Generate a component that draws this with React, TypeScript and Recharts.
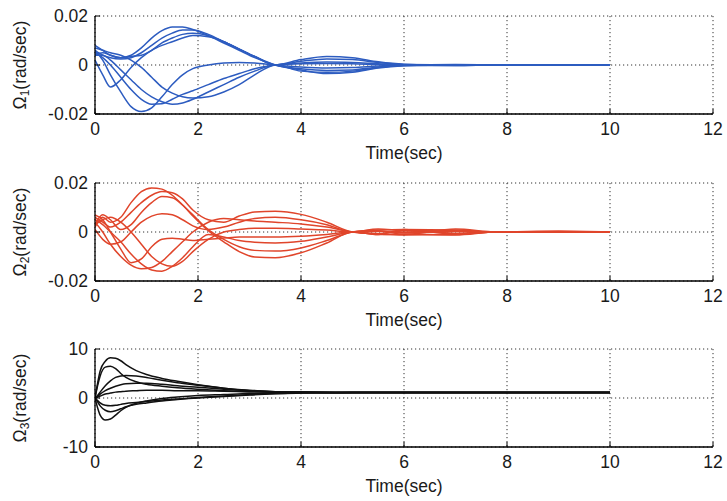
import React from 'react';
import { LineChart, Line, XAxis, YAxis, CartesianGrid } from 'recharts';

// Time samples (sec)
const timeA = [0, 0.15, 0.3, 0.5, 0.7, 0.9, 1.1, 1.3, 1.5, 1.7, 1.9, 2.2, 2.5, 2.8, 3.1, 3.5, 4.0, 4.5, 5.0, 5.5, 6.0, 7.0, 7.8, 9.0, 10.0];
const timeC = [0, 0.05, 0.1, 0.2, 0.3, 0.4, 0.5, 0.6, 0.8, 1.0, 1.3, 1.6, 2.0, 2.5, 3.0, 3.5, 4.0, 5.0, 6.0, 7.8, 10.0];

const xTicks = [0, 2, 4, 6, 8, 10, 12];
const yTicksSmall = [-0.02, 0, 0.02];
const yTicksBig = [-10, 0, 10];

// Omega_1 (blue)
const w1a = [0.008, 0.006, 0.004, 0.003, 0.004, 0.007, 0.011, 0.014, 0.0155, 0.0155, 0.0145, 0.012, 0.009, 0.006, 0.003, 0, -0.002, -0.0035, -0.003, -0.0012, -0.0003, 0.0002, 0.0001, 0, 0];
const w1b = [0.006, 0.004, 0.003, 0.0025, 0.003, 0.005, 0.008, 0.011, 0.013, 0.0143, 0.0143, 0.0125, 0.0095, 0.0065, 0.0035, 0, -0.0015, -0.0022, -0.002, -0.0008, -0.0002, -0.0002, 0, 0, 0];
const w1c = [0.004, 0.005, 0.004, 0.003, 0.0035, 0.004, 0.006, 0.009, 0.011, 0.0125, 0.013, 0.012, 0.0095, 0.0065, 0.0035, 0, 0.0015, 0.0025, 0.0022, 0.001, 0.0002, 0.0001, 0, 0, 0];
const w1d = [0.002, -0.004, -0.009, -0.006, -0.001, 0.003, 0.006, 0.008, 0.0095, 0.011, 0.012, 0.0115, 0.0095, 0.0065, 0.0035, 0, 0.0022, 0.0035, 0.003, 0.0013, 0.0003, -0.0002, 0, 0, 0];
const w1e = [0.006, 0.002, -0.004, -0.011, -0.017, -0.019, -0.0175, -0.013, -0.008, -0.004, -0.0015, 0, 0.0008, 0.001, 0.0008, 0, -0.0008, -0.0012, -0.001, -0.0004, 0, 0.0001, 0, 0, 0];
const w1f = [0.005, 0.003, 0, -0.005, -0.01, -0.014, -0.016, -0.0158, -0.014, -0.012, -0.0105, -0.008, -0.0055, -0.0035, -0.0015, 0, 0.0008, 0.0012, 0.001, 0.0005, 0.0001, 0, 0, 0, 0];
const w1g = [0.004, 0.004, 0.002, -0.002, -0.006, -0.01, -0.013, -0.015, -0.016, -0.0155, -0.014, -0.011, -0.008, -0.005, -0.0025, 0, -0.0025, -0.003, -0.0025, -0.001, -0.0002, 0, 0, 0, 0];
const w1h = [0.007, 0.006, 0.005, 0.004, 0.002, -0.001, -0.005, -0.009, -0.0115, -0.013, -0.0135, -0.013, -0.011, -0.008, -0.004, 0, 0.0005, 0.0006, 0.0005, 0.0002, 0, 0, 0, 0, 0];

// Omega_2 (red)
const w2a = [0.002, 0.006, 0.004, 0.006, 0.012, 0.0165, 0.018, 0.0175, 0.015, 0.011, 0.007, 0.001, -0.003, -0.006, -0.0075, -0.0078, -0.0065, -0.0035, 0, 0.0008, 0.001, 0.0008, 0, 0, 0];
const w2b = [0.006, 0.004, 0.002, 0.004, 0.008, 0.012, 0.015, 0.0165, 0.016, 0.0135, 0.009, 0.005, 0.004, 0.0065, 0.0082, 0.0085, 0.0072, 0.004, 0, -0.0008, -0.0012, -0.001, 0, 0, 0];
const w2c = [0.003, 0.007, 0.005, 0.001, 0.003, 0.008, 0.012, 0.0145, 0.014, 0.011, 0.0065, 0.0005, -0.004, -0.008, -0.0102, -0.0105, -0.0085, -0.0045, 0, -0.001, -0.0008, -0.0012, 0, 0, 0];
const w2d = [0.001, -0.003, -0.005, -0.004, 0, 0.004, 0.0065, 0.0075, 0.007, 0.005, 0.0025, 0.001, 0.002, 0.004, 0.0055, 0.006, 0.005, 0.003, 0, 0.0012, 0.0006, 0.0005, 0, 0, 0];
const w2e = [0.004, 0, -0.005, -0.01, -0.0135, -0.015, -0.0145, -0.012, -0.008, -0.004, 0, 0.004, 0.0055, 0.005, 0.0045, 0.004, 0.0033, 0.002, 0, -0.0006, 0.0004, -0.0005, 0, 0, 0];
const w2f = [0.005, 0.003, 0, -0.004, -0.009, -0.013, -0.0155, -0.016, -0.014, -0.0105, -0.006, -0.001, -0.002, -0.0035, -0.0042, -0.0045, -0.0038, -0.002, 0, 0.0005, -0.001, 0.0012, 0, 0, 0];
const w2g = [0.007, 0.005, 0, -0.007, -0.0125, -0.011, -0.006, -0.003, -0.0025, -0.003, -0.0035, -0.003, -0.0025, -0.002, -0.002, -0.002, -0.0017, -0.001, 0, -0.001, 0.001, -0.0008, 0, 0, 0];
const w2h = [0.003, 0.005, 0.006, 0.004, 0, -0.005, -0.01, -0.013, -0.014, -0.012, -0.008, -0.003, 0, 0.001, 0.0015, 0.0015, 0.0012, 0.0008, 0, 0.0003, -0.0003, 0.0003, 0, 0.0004, 0];

// Omega_3 (black)
const w3a = [0, 3, 5.5, 7.5, 8.2, 8.1, 7.6, 6.8, 5.6, 4.8, 4.0, 3.4, 2.7, 2.0, 1.5, 1.25, 1.15, 1.1, 1.1, 1.1, 1.1];
const w3b = [0, 2.5, 4.5, 6.3, 6.5, 6, 5, 4.2, 3.3, 2.8, 2.4, 2.1, 1.8, 1.5, 1.3, 1.2, 1.15, 1.1, 1.1, 1.1, 1.1];
const w3c = [0, 0.5, 1.2, 2.5, 3.5, 4.2, 4.5, 4.6, 4.5, 4.2, 3.6, 3.1, 2.6, 2.0, 1.6, 1.3, 1.2, 1.1, 1.1, 1.1, 1.1];
const w3d = [0, 0.3, 0.8, 1.5, 2.0, 2.4, 2.7, 2.9, 3.0, 3.0, 2.8, 2.5, 2.2, 1.8, 1.5, 1.3, 1.2, 1.1, 1.1, 1.1, 1.1];
const w3e = [0, 0.2, 0.4, 0.8, 1.0, 1.2, 1.3, 1.4, 1.5, 1.6, 1.6, 1.5, 1.5, 1.4, 1.3, 1.2, 1.15, 1.1, 1.1, 1.1, 1.1];
const w3f = [0, -2, -3.5, -4.5, -4.3, -3.5, -2.6, -1.9, -1.1, -0.6, -0.1, 0.2, 0.5, 0.7, 0.9, 1.0, 1.05, 1.1, 1.1, 1.1, 1.1];
const w3g = [0, -0.8, -1.6, -2.5, -2.8, -2.6, -2.2, -1.8, -1.3, -1.0, -0.6, -0.3, 0.1, 0.4, 0.7, 0.9, 1.0, 1.1, 1.1, 1.1, 1.1];
const w3h = [0, -0.5, -1.0, -1.5, -1.6, -1.5, -1.3, -1.1, -0.9, -0.7, -0.4, -0.2, 0.0, 0.3, 0.6, 0.85, 1.0, 1.1, 1.1, 1.1, 1.1];

const omega1 = [w1a, w1b, w1c, w1d, w1e, w1f, w1g, w1h];
const omega2 = [w2a, w2b, w2c, w2d, w2e, w2f, w2g, w2h];
const omega3 = [w3a, w3b, w3c, w3d, w3e, w3f, w3g, w3h];

const FONT = '"Liberation Sans", Arial, Helvetica, sans-serif';
const TXT = '#1a1a1a';
const FS = 17.5;

function buildRows(time: number[], series: number[][]) {
  return time.map((t, i) => {
    const row: Record<string, number> = { t };
    series.forEach((s, k) => {
      row['s' + k] = s[i];
    });
    return row;
  });
}

const YLabel = (props: any) => {
  const vb = props.viewBox || {};
  const cx = 20;
  const cy = vb.y != null ? vb.y + vb.height / 2 : 65;
  return (
    <text
      x={cx}
      y={cy}
      transform={`rotate(-90 ${cx} ${cy})`}
      textAnchor="middle"
      dominantBaseline="central"
      fontSize={FS}
      fill={TXT}
      fontFamily={FONT}
    >
      Ω
      <tspan dy={5} fontSize={12}>
        {props.sub}
      </tspan>
      <tspan dy={-5}>(rad/sec)</tspan>
    </text>
  );
};

type PanelProps = {
  rows: Record<string, number>[];
  count: number;
  color: string;
  yTicks: number[];
  sub: string;
};

const Panel = ({ rows, count, color, yTicks, sub }: PanelProps) => {
  const dom: [number, number] = [yTicks[0], yTicks[yTicks.length - 1]];
  return (
    <LineChart
      width={727}
      height={166}
      data={rows}
      margin={{ top: 16, right: 14, bottom: 0, left: 0 }}
      style={{ fontFamily: FONT }}
    >
      <CartesianGrid
        xAxisId="b"
        yAxisId="l"
        stroke="#333"
        strokeDasharray="1.2 2.8"
        strokeWidth={1}
      />
      <XAxis
        xAxisId="b"
        dataKey="t"
        type="number"
        domain={[0, 12]}
        ticks={xTicks}
        allowDataOverflow
        height={52}
        tickSize={-5}
        tickMargin={14}
        axisLine={{ stroke: '#000', strokeWidth: 1.3 }}
        tickLine={{ stroke: '#000' }}
        tick={{ fill: TXT, fontSize: FS, fontFamily: FONT }}
        label={{ value: 'Time(sec)', position: 'insideBottom', offset: 7, fill: TXT, fontSize: FS, fontFamily: FONT }}
      />
      <XAxis
        xAxisId="top"
        orientation="top"
        dataKey="t"
        type="number"
        domain={[0, 12]}
        ticks={xTicks}
        height={0}
        tickSize={-5}
        tick={false}
        axisLine={{ stroke: '#000', strokeWidth: 1.3 }}
        tickLine={{ stroke: '#000' }}
      />
      <YAxis
        yAxisId="l"
        type="number"
        domain={dom}
        ticks={yTicks}
        allowDataOverflow
        width={95}
        tickSize={-5}
        tickMargin={12}
        axisLine={{ stroke: '#000', strokeWidth: 1.3 }}
        tickLine={{ stroke: '#000' }}
        tick={{ fill: TXT, fontSize: FS, fontFamily: FONT }}
        label={<YLabel sub={sub} />}
      />
      <YAxis
        yAxisId="r"
        orientation="right"
        type="number"
        domain={dom}
        ticks={yTicks}
        width={0}
        tickSize={-5}
        tick={false}
        axisLine={{ stroke: '#000', strokeWidth: 1.3 }}
        tickLine={{ stroke: '#000' }}
      />
      {Array.from({ length: count }).map((_, k) => (
        <Line
          key={k}
          xAxisId="b"
          yAxisId="l"
          dataKey={'s' + k}
          type="monotone"
          stroke={color}
          strokeWidth={1.5}
          dot={false}
          activeDot={false}
          isAnimationActive={false}
        />
      ))}
    </LineChart>
  );
};

export default function App() {
  const rows1 = buildRows(timeA, omega1);
  const rows2 = buildRows(timeA, omega2);
  const rows3 = buildRows(timeC, omega3);
  return (
    <div
      style={{
        position: 'absolute',
        left: 0,
        top: 0,
        width: 727,
        height: 501,
        background: '#fff',
        overflow: 'hidden',
        fontFamily: FONT,
      }}
    >
      <div style={{ position: 'absolute', left: 0, top: 0 }}>
        <Panel rows={rows1} count={omega1.length} color="#2d5cc0" yTicks={yTicksSmall} sub="1" />
      </div>
      <div style={{ position: 'absolute', left: 0, top: 167 }}>
        <Panel rows={rows2} count={omega2.length} color="#e0452b" yTicks={yTicksSmall} sub="2" />
      </div>
      <div style={{ position: 'absolute', left: 0, top: 333 }}>
        <Panel rows={rows3} count={omega3.length} color="#111111" yTicks={yTicksBig} sub="3" />
      </div>
    </div>
  );
}
